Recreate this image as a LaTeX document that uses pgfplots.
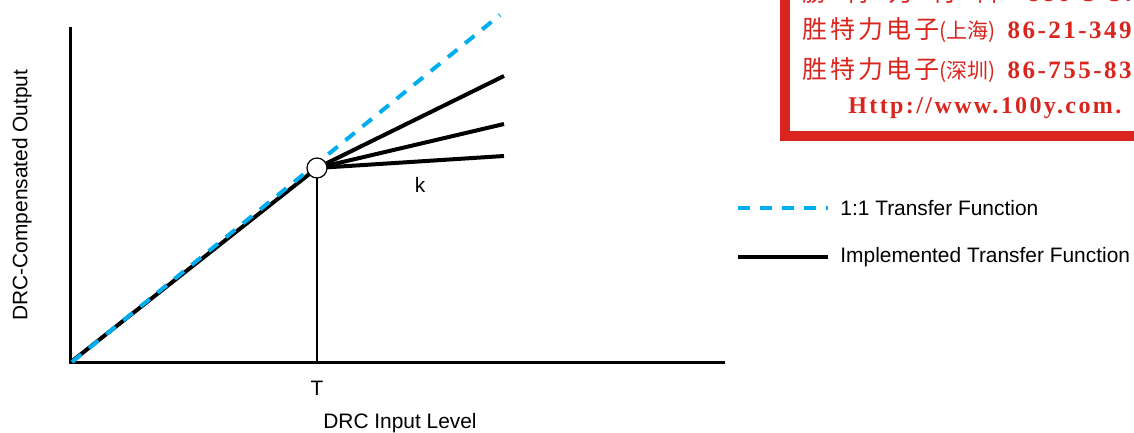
\documentclass[border=0pt]{standalone}
\usepackage{pgfplots}
\pgfplotsset{compat=1.18}
\usepackage{fontspec}
\setmainfont{Liberation Sans}
\newfontfamily\cjk{Noto Sans CJK SC}
\newfontfamily\redserif{Liberation Serif}[LetterSpace=10]
\definecolor{cyanline}{RGB}{0,174,239}
\definecolor{stampred}{RGB}{218,37,29}
\begin{document}
\begin{tikzpicture}
\begin{axis}[
  scale only axis, width=567pt, height=216.5pt,
  xmin=0, xmax=1134, ymin=0, ymax=433,
  hide axis, clip=true,
  font=\fontsize{10.45}{12}\selectfont,
]
% stamp (watermark box)
\draw[stampred, line width=5pt, fill=white] (785,297) rectangle (1200,520);
\node[anchor=west, text=stampred, inner sep=0] at (802,441) {\cjk\fontsize{12.5}{14}\selectfont 勝\hspace{9pt}特\hspace{9pt}力\hspace{9pt}材\hspace{9pt}料\hspace{14pt}\redserif\bfseries 886-3-57};
\node[anchor=west, text=stampred, inner sep=0] at (802,403) {\cjk\fontsize{12.5}{14}\selectfont 胜\hspace{1.5pt}特\hspace{1.5pt}力\hspace{1.5pt}电\hspace{1.5pt}子{\fontsize{10.5}{12}\selectfont (上海)}\hspace{6pt}\redserif\bfseries\fontsize{12.5}{14}\selectfont 86-21-349};
\node[anchor=west, text=stampred, inner sep=0] at (802,363) {\cjk\fontsize{12.5}{14}\selectfont 胜\hspace{1.5pt}特\hspace{1.5pt}力\hspace{1.5pt}电\hspace{1.5pt}子{\fontsize{10.5}{12}\selectfont (深圳)}\hspace{6pt}\redserif\bfseries\fontsize{12.5}{14}\selectfont 86-755-83};
\node[anchor=west, text=stampred, inner sep=0] at (848,325) {\redserif\bfseries\fontsize{12}{14}\selectfont Http://www.100y.com.};
% axes
\addplot[black, line width=1.5pt] coordinates {(70,406) (70,70)};
\addplot[black, line width=1.5pt] coordinates {(69,70) (725,70)};
% thin vertical at T
\addplot[black, line width=0.6pt] coordinates {(317,265) (317,70)};
% implemented transfer function
\addplot[black, line width=2pt] coordinates {(71,71) (317,265)};
\addplot[black, line width=2pt] coordinates {(317,265) (504,357)};
\addplot[black, line width=2pt] coordinates {(317,265) (504,309)};
\addplot[black, line width=2pt] coordinates {(317,265) (504,277)};
% 1:1
\addplot[cyanline, line width=2pt, dash pattern=on 6pt off 5pt] coordinates {(72,71) (500,418)};
% knee marker
\addplot[only marks, mark=*, mark size=5pt, mark options={fill=white, draw=black, line width=0.6pt}] coordinates {(317,265)};
% labels
\node at (317,45) {T};
\node at (420,248) {k};
\node at (400,10) {DRC Input Level};
\node[rotate=90] at (22,238) {DRC-Compensated Output};
% legend
\addplot[cyanline, line width=2pt, dash pattern=on 6pt off 5pt] coordinates {(738,225) (828,225)};
\addplot[black, line width=2pt] coordinates {(738,176) (828,176)};
\node[anchor=west, inner sep=0] at (840,225) {1:1 Transfer Function};
\node[anchor=west, inner sep=0] at (840,176) {Implemented Transfer Function};
\end{axis}
\pgfresetboundingbox
\path (0,0) rectangle (567pt,216.5pt);
\end{tikzpicture}
\end{document}
